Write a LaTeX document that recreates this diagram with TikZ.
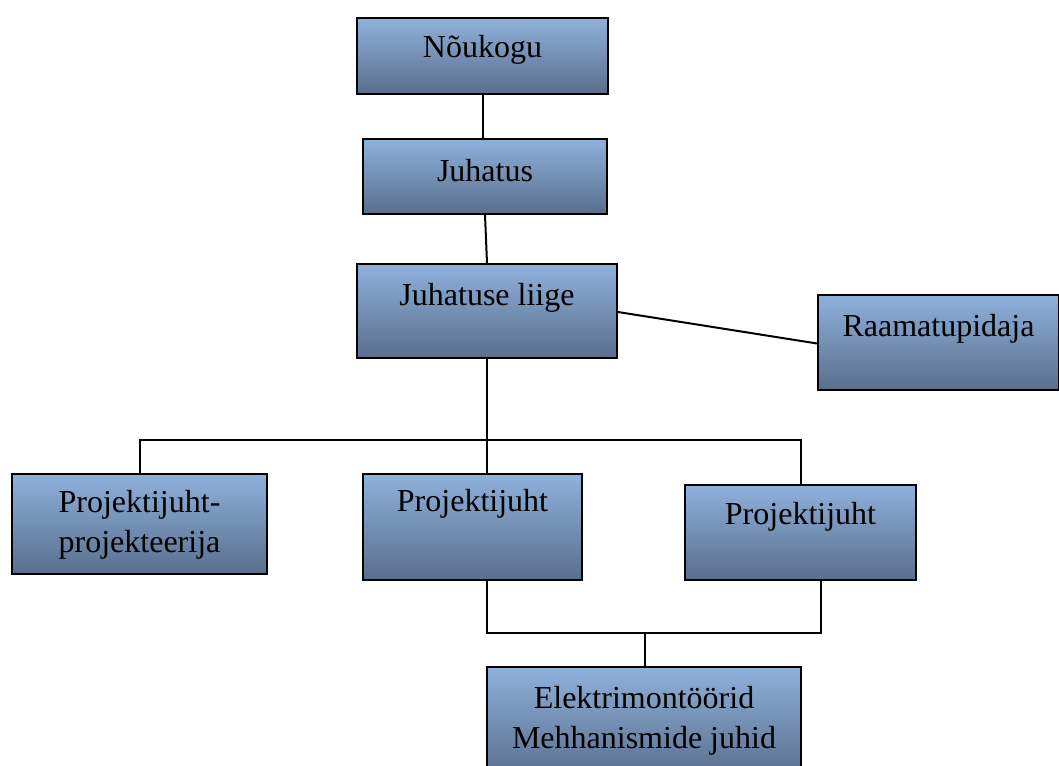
\documentclass[tikz,border=0pt]{standalone}
\usepackage{fontspec}
\setmainfont{Liberation Serif}
\definecolor{boxtop}{HTML}{8EB1DC}
\definecolor{boxbot}{HTML}{5A6E8C}
\tikzset{
  box/.style={rectangle, draw=black, line width=1.8pt, top color=boxtop, bottom color=boxbot, inner sep=0pt},
  txt/.style={font=\fontsize{32}{40}\selectfont, align=center, inner sep=0pt},
  line/.style={line width=2pt}
}
\begin{document}
\begin{tikzpicture}[x=1pt, y=-1pt]
  \useasboundingbox (0,0) rectangle (1059,765);
  % boxes
  \node[box, minimum width=251, minimum height=76] (noukogu) at (482.5,56) {};
  \node[box, minimum width=244, minimum height=75] (juhatus) at (485,176.5) {};
  \node[box, minimum width=260, minimum height=94] (liige) at (487,311) {};
  \node[box, minimum width=241, minimum height=95] (raamat) at (938.5,342.5) {};
  \node[box, minimum width=255, minimum height=100] (ppro) at (139.5,524) {};
  \node[box, minimum width=219, minimum height=106] (pj1) at (472.5,527) {};
  \node[box, minimum width=231, minimum height=95] (pj2) at (800.5,532.5) {};
  \node[box, minimum width=314, minimum height=110] (elekter) at (644,722) {};
  % texts
  \node[txt] (tnoukogu) at (482.5,50) {Nõukogu};
  \node[txt] (tjuhatus) at (485,171) {Juhatus};
  \node[txt] (tliige) at (487,298) {Juhatuse liige};
  \node[txt] (traamat) at (938.5,329) {Raamatupidaja};
  \node[txt] (tppro) at (139.5,525) {Projektijuht-\\projekteerija};
  \node[txt] (tpj1) at (472.5,504) {Projektijuht};
  \node[txt] (tpj2) at (800.5,517) {Projektijuht};
  \node[txt] (telekter) at (644,721) {Elektrimontöörid\\Mehhanismide juhid};
  % connectors
  \coordinate (jaotus) at (487,440);
  \coordinate (liit) at (645,633);
  \draw[line] (noukogu.south) -- (noukogu.south |- juhatus.north);
  \draw[line] (juhatus.south) -- (liige.north);
  \draw[line] ([yshift=-1]liige.east) -- ([yshift=-1]raamat.west);
  \draw[line] (liige.south) -- (jaotus);
  \draw[line] (ppro.north) |- (jaotus) -| (pj2.north);
  \draw[line] (jaotus) -- (pj1.north -| jaotus);
  \draw[line] ([xshift=14]pj1.south) |- (liit) -| ([xshift=20]pj2.south);
  \draw[line] (liit) -- (elekter.north -| liit);
\end{tikzpicture}
\end{document}
